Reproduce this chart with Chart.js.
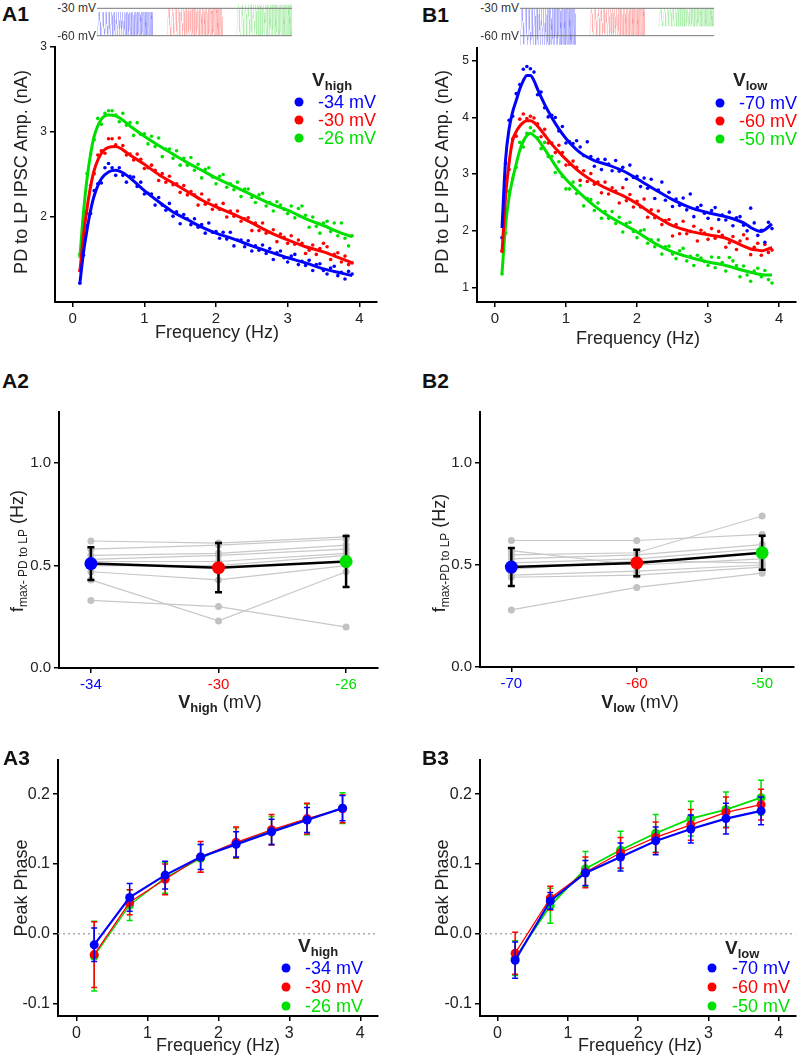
<!DOCTYPE html>
<html>
<head>
<meta charset="utf-8">
<title>PD to LP IPSC amplitude and phase</title>
<script src="https://cdn.jsdelivr.net/npm/chart.js@4.4.1/dist/chart.umd.min.js"></script>
<style>
  body { margin: 0; background: #fff; }
  #page { position: relative; width: 800px; height: 1057px; overflow: hidden;
          font-family: 'Liberation Sans', Arial, Helvetica, sans-serif; color: #222; }
  #page canvas { position: absolute; }
  .t { position: absolute; white-space: nowrap; line-height: 1; transform: translate(-50%, -50%); }
  .t.left { transform: translate(0, -50%); }
  .t.right { transform: translate(-100%, -50%); }
  .t.rot { transform: translate(-50%, -50%) rotate(-90deg); }
  .panel { font-size: 21px; font-weight: bold; color: #111; }
  .axt { font-size: 18px; }
  .axt sub { font-size: 12px; vertical-align: -4px; }
  .axt b sub { font-size: 13px; }
  .small { font-size: 12px; color: #333; }
  .leg { font-size: 18px; }
  .legt { font-size: 19px; font-weight: bold; }
  .legt sub { font-size: 13px; vertical-align: -4px; }
  .dot { position: absolute; width: 9px; height: 9px; border-radius: 50%; transform: translate(-50%, -50%); }
</style>
</head>
<body>
<div id="page">
  <canvas id="insetA"></canvas>
  <canvas id="insetB"></canvas>
  <canvas id="chartA1"></canvas>
  <canvas id="chartB1"></canvas>
  <canvas id="chartA2"></canvas>
  <canvas id="chartB2"></canvas>
  <canvas id="chartA3"></canvas>
  <canvas id="chartB3"></canvas>

  <div class="t left panel" style="left:2px;top:13px">A1</div>
  <div class="t left panel" style="left:422px;top:14px">B1</div>
  <div class="t left panel" style="left:2px;top:380px">A2</div>
  <div class="t left panel" style="left:422px;top:380px">B2</div>
  <div class="t left panel" style="left:3px;top:757px">A3</div>
  <div class="t left panel" style="left:422px;top:757px">B3</div>

  <div class="t right small" style="left:96px;top:8px">-30 mV</div>
  <div class="t right small" style="left:96px;top:36px">-60 mV</div>
  <div class="t right small" style="left:519px;top:8px">-30 mV</div>
  <div class="t right small" style="left:519px;top:36px">-60 mV</div>

  <div class="t rot axt" style="left:21px;top:172px">PD to LP IPSC Amp. (nA)</div>
  <div class="t rot axt" style="left:442px;top:172px">PD to LP IPSC Amp. (nA)</div>
  <div class="t axt" style="left:217px;top:332px">Frequency (Hz)</div>
  <div class="t axt" style="left:638px;top:338px">Frequency (Hz)</div>

  <div class="t rot axt" style="left:18px;top:551px">f<sub>max- PD to LP</sub> (Hz)</div>
  <div class="t rot axt" style="left:440px;top:553px">f<sub>max-PD to LP</sub> (Hz)</div>
  <div class="t axt" style="left:220px;top:703px"><b>V<sub>high</sub></b> (mV)</div>
  <div class="t axt" style="left:640px;top:703px"><b>V<sub>low</sub></b> (mV)</div>

  <div class="t rot axt" style="left:21px;top:888px">Peak Phase</div>
  <div class="t rot axt" style="left:442px;top:888px">Peak Phase</div>
  <div class="t axt" style="left:218px;top:1045px">Frequency (Hz)</div>
  <div class="t axt" style="left:640px;top:1045px">Frequency (Hz)</div>
</div>

<script>
// ---------- data ----------
const BLUE = '#0000ff', RED = '#ff0000', GREEN = '#00e000';
const seriesColors = [BLUE, RED, GREEN];

// voltage conditions
const vHigh = [-34, -30, -26];
const vLow = [-70, -60, -50];
const vHighLabels = ['-34', '-30', '-26'];
const vLowLabels = ['-70', '-60', '-50'];

// A1 / B1: IPSC amplitude (nA) at each chirp frequency bin (Hz)
const freqs = [0.10,0.15,0.20,0.25,0.30,0.35,0.40,0.45,0.50,0.55,0.60,0.65,0.70,0.75,0.80,0.85,0.90,0.95,1.00,1.05,
  1.10,1.15,1.20,1.25,1.30,1.35,1.40,1.45,1.50,1.55,1.60,1.65,1.70,1.75,1.80,1.85,1.90,1.95,2.00,2.05,
  2.10,2.15,2.20,2.25,2.30,2.35,2.40,2.45,2.50,2.55,2.60,2.65,2.70,2.75,2.80,2.85,2.90,2.95,3.00,3.05,
  3.10,3.15,3.20,3.25,3.30,3.35,3.40,3.45,3.50,3.55,3.60,3.65,3.70,3.75,3.80,3.85,3.90];

const a1Blue = [1.22,1.55,1.90,2.04,2.31,2.39,2.40,2.58,2.63,2.58, 2.49,2.58,2.49,2.41,2.48,2.47,2.36,2.41,2.27,2.28,
  2.27,2.14,2.23,2.14,2.08,2.16,2.01,2.06,1.92,2.03, 1.98,1.91,1.98,1.88,1.91,1.81,1.93,1.82,1.83,1.75,
  1.82,1.74,1.82,1.66,1.73,1.73,1.65,1.72,1.60,1.66, 1.61,1.67,1.57,1.63,1.50,1.58,1.60,1.52,1.47,1.54,
  1.56,1.44,1.48,1.43,1.49,1.37,1.44,1.45,1.37,1.33, 1.40,1.42,1.31,1.35,1.27,1.36,1.33];
const a1Red = [1.37,1.82,2.04,2.37,2.51,2.73,2.78,2.75,2.92,2.92, 2.85,2.93,2.84,2.73,2.74,2.67,2.74,2.68,2.57,2.58,
  2.61,2.55,2.43,2.51,2.41,2.48,2.38,2.39,2.29,2.37, 2.26,2.30,2.26,2.14,2.27,2.15,2.20,2.09,2.14,2.09,
  2.16,2.00,2.07,2.01,2.07,1.95,1.98,1.99,1.84,1.93, 1.84,1.93,1.81,1.82,1.85,1.71,1.80,1.76,1.69,1.78,
  1.68,1.73,1.69,1.57,1.61,1.67,1.56,1.63,1.69,1.65, 1.50,1.56,1.58,1.47,1.54,1.44,1.46];
const a1Green = [1.56,1.96,2.51,2.74,2.91,3.16,3.09,3.22,3.25,3.25, 3.20,3.12,3.22,3.08,3.11,2.96,3.11,2.97,2.98,2.86,
  2.95,2.83,2.93,2.71,2.80,2.80,2.69,2.78,2.61,2.69, 2.61,2.70,2.55,2.62,2.46,2.56,2.58,2.47,2.39,2.48,
  2.50,2.35,2.39,2.32,2.41,2.24,2.33,2.33,2.23,2.17, 2.26,2.28,2.13,2.17,2.07,2.18,2.14,2.09,2.04,2.13,
  1.99,2.10,2.13,2.02,1.88,2.00,1.89,1.81,1.93,1.95, 1.83,1.93,1.78,1.93,1.75,1.66,1.78];

// smooth fits drawn through the scatter (knots)
const a1FitFreq = [0.1,0.15,0.2,0.25,0.3,0.4,0.5,0.6,0.7,0.8,1.0,1.2,1.4,1.6,1.8,2.0,2.25,2.5,2.75,3.0,3.25,3.5,3.75,3.9];
const a1FitBlue = [1.22,1.58,1.85,2.08,2.25,2.45,2.53,2.55,2.52,2.46,2.31,2.18,2.06,1.97,1.88,1.81,1.74,1.66,1.59,1.52,1.46,1.39,1.34,1.31];
const a1FitRed = [1.35,1.78,2.10,2.36,2.55,2.75,2.82,2.83,2.79,2.73,2.62,2.50,2.40,2.30,2.20,2.12,2.03,1.93,1.82,1.73,1.65,1.59,1.51,1.46];
const a1FitGreen = [1.52,2.05,2.45,2.74,2.95,3.15,3.20,3.19,3.14,3.07,2.95,2.84,2.74,2.64,2.55,2.46,2.36,2.26,2.16,2.08,1.98,1.90,1.81,1.77];

const b1Blue = [1.88,3.19,3.95,4.02,4.42,4.58,4.85,4.90,4.86,4.80, 4.40,4.45,4.17,4.01,4.04,4.00,3.76,3.84,3.55,3.57,
  3.54,3.59,3.48,3.33,3.57,3.31,3.14,3.26,3.08,3.26, 3.18,3.06,3.24,3.05,3.12,2.91,3.16,2.94,2.96,2.78,
  2.93,2.75,2.91,2.57,2.72,2.86,2.54,2.68,2.43,2.56, 2.45,2.58,2.37,2.65,2.25,2.41,2.45,2.31,2.22,2.36,
  2.41,2.20,2.28,2.19,2.33,2.09,2.23,2.25,2.10,2.00, 2.40,2.14,1.92,2.01,1.80,2.15,2.04];
const b1Red = [1.65,2.68,3.08,3.62,3.67,3.97,4.06,3.98,4.02,3.99, 3.89,3.66,3.79,3.55,3.55,3.38,3.51,3.38,3.16,3.17,
  3.23,3.12,2.89,3.06,2.87,3.01,2.82,2.86,2.67,2.86, 2.65,2.76,2.70,2.49,2.76,2.53,2.64,2.42,2.52,2.42,
  2.56,2.24,2.37,2.23,2.35,2.11,2.18,2.20,1.91,2.11, 1.95,2.17,1.95,1.99,2.08,1.82,2.01,1.96,1.85,2.04,
  1.87,1.99,1.92,1.71,1.79,1.90,1.67,1.82,1.93,1.86, 1.58,1.71,1.78,1.57,1.76,1.62,1.66];
const b1Green = [1.24,1.96,2.70,2.92,3.12,3.56,3.48,3.72,3.82,3.76, 3.64,3.45,3.56,3.31,3.31,3.03,3.22,2.96,2.74,2.74,
  2.86,2.66,2.80,2.44,2.57,2.55,2.36,2.49,2.22,2.34, 2.22,2.34,2.13,2.24,1.98,2.13,2.15,1.99,1.88,2.00,
  2.02,1.78,1.84,1.72,1.84,1.59,1.72,1.73,1.59,1.51, 1.65,1.69,1.47,1.55,1.39,1.57,1.52,1.46,1.39,1.54,
  1.35,1.53,1.44,1.29,1.53,1.47,1.39,1.19,1.38,1.22, 1.11,1.29,1.34,1.19,1.30,1.14,1.08];

const b1FitFreq = [0.1,0.15,0.2,0.25,0.3,0.35,0.4,0.45,0.5,0.55,0.6,0.7,0.8,0.9,1.0,1.2,1.4,1.6,1.8,2.0,2.25,2.5,2.75,3.0,3.25,3.5,3.6,3.7,3.75,3.8,3.9];
const b1FitBlue = [2.05,3.25,3.80,4.10,4.30,4.50,4.65,4.74,4.74,4.65,4.50,4.23,4.00,3.80,3.63,3.38,3.24,3.16,3.06,2.92,2.73,2.55,2.41,2.32,2.25,2.14,2.06,2.00,1.99,2.02,2.12];
const b1FitRed = [1.61,2.60,3.20,3.60,3.75,3.85,3.91,3.94,3.94,3.91,3.85,3.69,3.53,3.39,3.26,3.03,2.86,2.73,2.62,2.48,2.27,2.09,1.99,1.93,1.87,1.73,1.68,1.66,1.65,1.66,1.71];
const b1FitGreen = [1.25,2.10,2.60,2.92,3.18,3.42,3.58,3.68,3.72,3.68,3.62,3.44,3.25,3.06,2.91,2.66,2.44,2.26,2.12,1.98,1.78,1.63,1.53,1.45,1.39,1.30,1.27,1.24,1.23,1.22,1.22];

// A2 / B2: f_max per preparation (gray) and mean +- SD (Hz)
const a2Mean = [0.51, 0.49, 0.52];
const a2Err = [0.08, 0.12, 0.125];
const a2Preps = [
  [0.62, 0.61, 0.64], [0.58, 0.60, 0.63], [0.55, 0.56, 0.60],
  [0.53, 0.55, 0.58], [0.52, 0.52, 0.56], [0.50, 0.50, 0.55],
  [0.47, 0.43, 0.50], [0.43, 0.23, 0.47], [0.33, 0.30, 0.20]
];
const b2Mean = [0.49, 0.51, 0.56];
const b2Err = [0.093, 0.065, 0.083];
const b2Preps = [
  [0.62, 0.62, 0.65], [0.57, 0.50, 0.53], [0.55, 0.56, 0.74],
  [0.53, 0.55, 0.60], [0.51, 0.53, 0.58], [0.48, 0.52, 0.51],
  [0.45, 0.47, 0.50], [0.44, 0.45, 0.49], [0.28, 0.39, 0.46]
];

// A3 / B3: peak phase per frequency bin
const phaseFreq = [0.25, 0.75, 1.25, 1.75, 2.25, 2.75, 3.25, 3.75];
const a3Blue = [-0.016, 0.052, 0.084, 0.110, 0.128, 0.146, 0.163, 0.180];
const a3BlueErr = [0.024, 0.020, 0.020, 0.018, 0.018, 0.018, 0.018, 0.018];
const a3Red = [-0.030, 0.045, 0.078, 0.110, 0.131, 0.149, 0.165, 0.179];
const a3RedErr = [0.047, 0.018, 0.022, 0.022, 0.022, 0.022, 0.022, 0.020];
const a3Green = [-0.032, 0.041, 0.080, 0.108, 0.130, 0.148, 0.164, 0.180];
const a3GreenErr = [0.050, 0.022, 0.022, 0.020, 0.022, 0.020, 0.022, 0.022];
const b3Blue = [-0.038, 0.047, 0.087, 0.110, 0.133, 0.150, 0.165, 0.176];
const b3BlueErr = [0.026, 0.012, 0.018, 0.020, 0.020, 0.020, 0.022, 0.020];
const b3Red = [-0.028, 0.051, 0.088, 0.116, 0.138, 0.156, 0.174, 0.185];
const b3RedErr = [0.030, 0.017, 0.022, 0.022, 0.022, 0.022, 0.022, 0.022];
const b3Green = [-0.035, 0.040, 0.093, 0.120, 0.144, 0.165, 0.178, 0.195];
const b3GreenErr = [0.025, 0.025, 0.025, 0.027, 0.027, 0.025, 0.025, 0.025];

// tick values / labels
const freqTicks = [0, 1, 2, 3, 4];
const freqTickLabels = ['0', '1', '2', '3', '4'];
const a1YTicks = [2, 3, 4];
const a1YTickLabels = ['2', '3', '3'];
const b1YTicks = [1, 2, 3, 4, 5];
const b1YTickLabels = ['1', '2', '3', '4', '5'];
const fmaxTicks = [0, 0.5, 1.0];
const fmaxTickLabels = ['0.0', '0.5', '1.0'];
const phaseTicks = [-0.1, 0, 0.1, 0.2];
const phaseTickLabels = ['-0.1', '0.0', '0.1', '0.2'];

// stimulus schematic (inset): three sweeps, each between V_low and V_high
const sweepDur = 100, sweepGap = 25;
const chirpF0 = 0.12, chirpF1 = 0.5;
const insetAHigh = [-34, -30, -26], insetALow = [-60, -60, -60];
const insetBHigh = [-30, -30, -30], insetBLow = [-70, -60, -50];
const insetRef = [-30, -60];

// ---------- helpers ----------
Chart.defaults.font.family = "'Liberation Sans', Arial, Helvetica, sans-serif";
Chart.defaults.color = '#222';

const pts = (xs, ys) => xs.map((x, i) => ({ x, y: ys[i] }));

// vertical error bars drawn through the chart's own scales
const errorBars = {
  id: 'errorBars',
  beforeDatasetDraw(chart, args) {
    const ds = chart.data.datasets[args.index];
    if (!ds.errors) return;
    const { ctx, scales: { x, y } } = chart;
    ctx.save();
    ctx.strokeStyle = ds.errorColor;
    ctx.lineWidth = ds.errorWidth;
    const cap = ds.errorCap;
    ds.data.forEach((p, i) => {
      const px = x.getPixelForValue(p.x);
      const top = y.getPixelForValue(p.y + ds.errors[i]);
      const bot = y.getPixelForValue(p.y - ds.errors[i]);
      ctx.beginPath();
      ctx.moveTo(px, top); ctx.lineTo(px, bot);
      ctx.moveTo(px - cap, top); ctx.lineTo(px + cap, top);
      ctx.moveTo(px - cap, bot); ctx.lineTo(px + cap, bot);
      ctx.stroke();
    });
    ctx.restore();
  }
};

function place(id, box, area) {
  const c = document.getElementById(id);
  c.width = box.w; c.height = box.h;
  c.style.left = box.x + 'px'; c.style.top = box.y + 'px';
  return {
    canvas: c,
    padding: { left: 0, bottom: 0, top: area.top - box.y, right: box.x + box.w - area.right },
    yWidth: area.left - box.x,
    xHeight: box.y + box.h - area.bottom
  };
}

function axis(min, max, ticks, labels, size, color) {
  return {
    type: 'linear', min, max,
    afterBuildTicks: s => { s.ticks = ticks.map(v => ({ value: v })); },
    ticks: { callback: (v, i) => labels[i], font: { size }, color: color || '#222', padding: 3, maxRotation: 0, autoSkip: false },
    grid: { drawOnChartArea: false, tickLength: 5, color: '#000', lineWidth: 1.5 },
    border: { color: '#000', width: 2 }
  };
}

function makeChart(id, box, area, datasets, xAxis, yAxis) {
  const g = place(id, box, area);
  xAxis.afterFit = s => { s.height = g.xHeight; };
  yAxis.afterFit = s => { s.width = g.yWidth; };
  return new Chart(g.canvas, {
    type: 'scatter',
    data: { datasets },
    options: {
      responsive: false, animation: false, events: [],
      layout: { padding: g.padding },
      plugins: { legend: { display: false }, tooltip: { enabled: false } },
      scales: { x: xAxis, y: yAxis }
    },
    plugins: [errorBars]
  });
}

const scatterSet = (xs, ys, color) => ({ data: pts(xs, ys), showLine: false, pointRadius: 1.8, pointBackgroundColor: color, pointBorderWidth: 0 });
const fitSet = (xs, ys, color) => ({ data: pts(xs, ys), showLine: true, borderColor: color, borderWidth: 3, pointRadius: 0, cubicInterpolationMode: 'monotone' });
const phaseSet = (ys, err, color, width) => ({
  data: pts(phaseFreq, ys), showLine: true, borderColor: color, borderWidth: width,
  pointRadius: 4.5, pointBackgroundColor: color, pointBorderWidth: 0,
  errors: err, errorColor: color, errorWidth: 1.5, errorCap: 3
});
const zeroLine = (xmin, xmax) => ({ data: [{ x: xmin, y: 0 }, { x: xmax, y: 0 }], showLine: true, borderColor: '#aaa', borderWidth: 1.5, borderDash: [2, 3], pointRadius: 0 });

function fmaxSets(xs, mean, err, preps) {
  const sets = [{
    data: pts(xs, mean), showLine: true, borderColor: '#000', borderWidth: 2.5,
    pointRadius: 6.5, pointBackgroundColor: seriesColors, pointBorderWidth: 0,
    errors: err, errorColor: '#000', errorWidth: 2.5, errorCap: 3.5
  }];
  preps.forEach(p => sets.push({ data: pts(xs, p), showLine: true, borderColor: '#c8c8c8', borderWidth: 1.2, pointRadius: 3.5, pointBackgroundColor: '#c2c2c2', pointBorderWidth: 0 }));
  return sets;
}

// stimulus schematic: sine sweep between low and high with rising frequency
function chirp(start, low, high, color) {
  const data = [];
  for (let i = 0; i <= 800; i++) {
    const t = i / 800 * sweepDur;
    const ph = 2 * Math.PI * (chirpF0 * t + (chirpF1 - chirpF0) * t * t / (2 * sweepDur));
    data.push({ x: start + t, y: low + (high - low) * (1 - Math.cos(ph)) / 2 });
  }
  return { data, showLine: true, borderColor: color, borderWidth: 0.5, pointRadius: 0 };
}

function makeInset(id, box, highs, lows) {
  const g = place(id, box, { left: box.x, top: box.y, right: box.x + box.w, bottom: box.y + box.h });
  const end = 3 * sweepDur + 2 * sweepGap;
  const sets = insetRef.map(v => ({ data: [{ x: 0, y: v }, { x: end, y: v }], showLine: true, borderColor: '#777', borderWidth: 1, pointRadius: 0 }));
  const pale = ['rgba(0,0,255,0.3)', 'rgba(255,0,0,0.26)', 'rgba(0,200,0,0.26)'];
  highs.forEach((h, i) => sets.push(chirp(i * (sweepDur + sweepGap), lows[i], h, pale[i])));
  new Chart(g.canvas, {
    type: 'scatter',
    data: { datasets: sets },
    options: {
      responsive: false, animation: false, events: [],
      layout: { padding: 0 },
      plugins: { legend: { display: false }, tooltip: { enabled: false } },
      scales: { x: { type: 'linear', display: false, min: 0, max: end }, y: { type: 'linear', display: false, min: -73.5, max: -20.9 } }
    }
  });
}

function addLegend(sub, labels, pos) {
  let html = `<div class="t left legt" style="left:${pos.titleX}px;top:${pos.titleY}px">V<sub>${sub}</sub></div>`;
  labels.forEach((lab, i) => {
    html += `<div class="dot" style="left:${pos.dotX}px;top:${pos.rows[i]}px;background:${seriesColors[i]}"></div>`;
    html += `<div class="t left leg" style="left:${pos.textX}px;top:${pos.rows[i]}px;color:${seriesColors[i]}">${lab}</div>`;
  });
  document.getElementById('page').insertAdjacentHTML('beforeend', html);
}

// ---------- insets ----------
makeInset('insetA', { x: 97, y: 0, w: 195, h: 48 }, insetAHigh, insetALow);
makeInset('insetB', { x: 520, y: 0, w: 194, h: 48 }, insetBHigh, insetBLow);

// ---------- A1 / B1 ----------
makeChart('chartA1', { x: 0, y: 32, w: 400, h: 300 }, { left: 55, top: 47, right: 377, bottom: 302 }, [
  fitSet(a1FitFreq, a1FitBlue, BLUE), fitSet(a1FitFreq, a1FitRed, RED), fitSet(a1FitFreq, a1FitGreen, GREEN),
  scatterSet(freqs, a1Blue, BLUE), scatterSet(freqs, a1Red, RED), scatterSet(freqs, a1Green, GREEN)
], axis(-0.247, 4.247, freqTicks, freqTickLabels, 15), axis(1, 4, a1YTicks, a1YTickLabels, 12));

makeChart('chartB1', { x: 400, y: 32, w: 400, h: 300 }, { left: 477, top: 48, right: 798, bottom: 302 }, [
  fitSet(b1FitFreq, b1FitBlue, BLUE), fitSet(b1FitFreq, b1FitRed, RED), fitSet(b1FitFreq, b1FitGreen, GREEN),
  scatterSet(freqs, b1Blue, BLUE), scatterSet(freqs, b1Red, RED), scatterSet(freqs, b1Green, GREEN)
], axis(-0.252, 4.238, freqTicks, freqTickLabels, 15), axis(0.745, 5.225, b1YTicks, b1YTickLabels, 12));

// ---------- A2 / B2 ----------
makeChart('chartA2', { x: 0, y: 395, w: 400, h: 300 }, { left: 59, top: 412, right: 378, bottom: 668 },
  fmaxSets(vHigh, a2Mean, a2Err, a2Preps),
  axis(-35, -25, vHigh, vHighLabels, 15, c => seriesColors[c.index]), axis(0, 1.25, fmaxTicks, fmaxTickLabels, 15));

makeChart('chartB2', { x: 400, y: 395, w: 400, h: 300 }, { left: 480, top: 412, right: 799, bottom: 667 },
  fmaxSets(vLow, b2Mean, b2Err, b2Preps),
  axis(-72.5, -47.5, vLow, vLowLabels, 15, c => seriesColors[c.index]), axis(0, 1.25, fmaxTicks, fmaxTickLabels, 15));

// ---------- A3 / B3 ----------
makeChart('chartA3', { x: 0, y: 745, w: 400, h: 300 }, { left: 58, top: 760, right: 378, bottom: 1016 }, [
  phaseSet(a3Blue, a3BlueErr, BLUE, 2.2), phaseSet(a3Red, a3RedErr, RED, 1.3), phaseSet(a3Green, a3GreenErr, GREEN, 1.3),
  zeroLine(-0.26, 4.25)
], axis(-0.26, 4.25, freqTicks, freqTickLabels, 16), axis(-0.118, 0.249, phaseTicks, phaseTickLabels, 16));

makeChart('chartB3', { x: 400, y: 745, w: 400, h: 300 }, { left: 480, top: 760, right: 799, bottom: 1016 }, [
  phaseSet(b3Blue, b3BlueErr, BLUE, 2.2), phaseSet(b3Red, b3RedErr, RED, 1.3), phaseSet(b3Green, b3GreenErr, GREEN, 1.8),
  zeroLine(-0.25, 4.24)
], axis(-0.25, 4.24, freqTicks, freqTickLabels, 16), axis(-0.118, 0.249, phaseTicks, phaseTickLabels, 16));

// ---------- legends ----------
const highLegend = vHigh.map(v => `${v} mV`);
const lowLegend = vLow.map(v => `${v} mV`);
addLegend('high', highLegend, { titleX: 312, titleY: 81, dotX: 299, textX: 318, rows: [102, 120, 137.5] });
addLegend('low', lowLegend, { titleX: 733, titleY: 81, dotX: 720, textX: 739, rows: [103, 121, 139] });
addLegend('high', highLegend, { titleX: 298, titleY: 947, dotX: 286, textX: 305, rows: [968, 987, 1006] });
addLegend('low', lowLegend, { titleX: 725, titleY: 949, dotX: 712, textX: 732, rows: [968, 987, 1006] });
</script>
</body>
</html>
